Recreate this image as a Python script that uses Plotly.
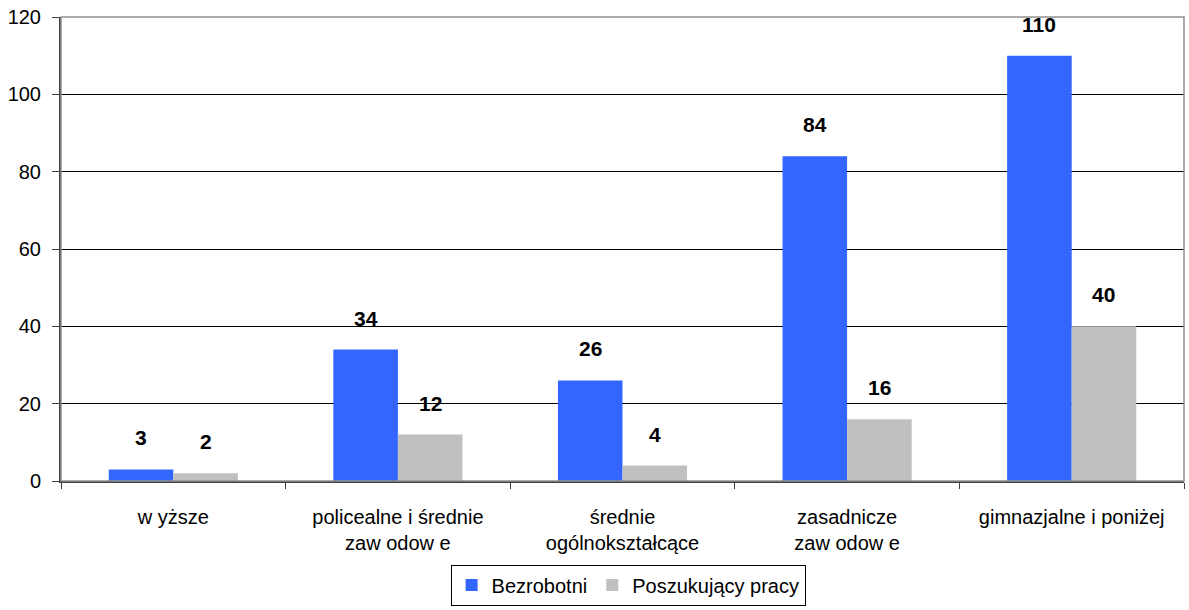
import plotly.graph_objects as go

# Data
categories = ['w yższe', 'policealne i średnie<br>zaw odow e', 'średnie<br>ogólnokształcące',
              'zasadnicze<br>zaw odow e', 'gimnazjalne i poniżej']
bezrobotni = [3, 34, 26, 84, 110]
poszukujacy = [2, 12, 4, 16, 40]
series_names = ['Bezrobotni', 'Poszukujący pracy']
y_ticks = [0, 20, 40, 60, 80, 100, 120]

font_family = 'Liberation Sans, Arial, sans-serif'
blue = '#3366FF'
gray = '#C0C0C0'

W, H = 1189, 610
M = dict(l=61, r=5, t=17, b=125)

fig = go.Figure()
fig.add_trace(go.Bar(x=categories, y=bezrobotni, name=series_names[0],
                     marker=dict(color=blue, line=dict(width=0))))
fig.add_trace(go.Bar(x=categories, y=poszukujacy, name=series_names[1],
                     marker=dict(color=gray, line=dict(width=0))))

# value labels above bars
plot_w = W - M['l'] - M['r']
bargap = 0.425
bar_w = plot_w / len(categories) * (1 - bargap) / 2
for vals, sign in [(bezrobotni, -1), (poszukujacy, 1)]:
    for cat, v in zip(categories, vals):
        fig.add_annotation(x=cat, y=v, text=f'<b>{v}</b>', showarrow=False,
                           xshift=sign * bar_w / 2, yshift=18, yanchor='bottom',
                           font=dict(size=21, color='black', family=font_family))

# gray frame on top / right
fig.add_shape(type='rect', xref='paper', yref='paper', x0=0, x1=1, y0=0, y1=1,
              line=dict(color='#909090', width=1.5), layer='above')

fig.update_layout(
    width=W, height=H,
    margin=M,
    barmode='group', bargap=bargap, bargroupgap=0,
    plot_bgcolor='white', paper_bgcolor='white',
    font=dict(family=font_family, size=20, color='black'),
    showlegend=True,
    legend=dict(orientation='h', x=0.505, xanchor='center', y=-0.18, yanchor='top',
                bordercolor='black', borderwidth=1, bgcolor='white',
                font=dict(size=20), itemwidth=30, tracegroupgap=0),
    xaxis=dict(showline=True, linecolor='#404040', linewidth=2, automargin=False,
               ticks='outside', tickson='boundaries', ticklen=6, tickcolor='#404040',
               ticklabelstandoff=17, showgrid=False,
               tickfont=dict(size=20)),
    yaxis=dict(range=[0, 120], tickvals=y_ticks, showline=True, linecolor='#404040',
               linewidth=2, ticks='outside', ticklen=7, tickcolor='#404040',
               showgrid=True, gridcolor='black', gridwidth=1, zeroline=False,
               automargin=False, ticklabeloverflow='allow', ticklabelstandoff=7,
               tickfont=dict(size=20)),
)

# drop the default page margin so the figure sits at the window's corner
fig.write_html('out.html', config={'displayModeBar': False},
               post_script="document.body.style.margin='0';")
